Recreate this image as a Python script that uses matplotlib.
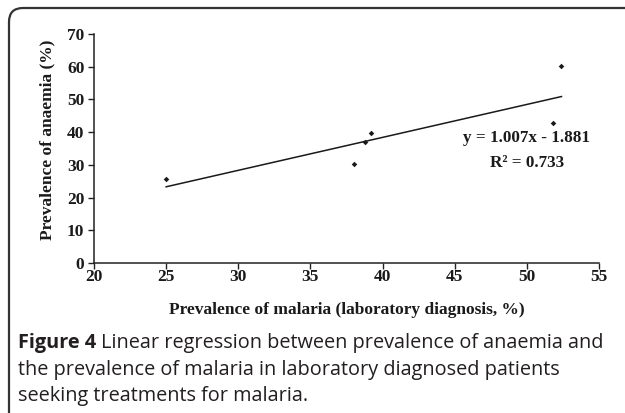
import numpy as np
import matplotlib
matplotlib.use("Agg")
import matplotlib.pyplot as plt
from matplotlib.path import Path
from matplotlib.patches import PathPatch

# Data
malaria = [25.0, 38.0, 38.8, 39.2, 51.8, 52.4]
anaemia = [25.7, 30.2, 36.9, 39.7, 42.7, 60.3]
slope = 1.007
intercept = -1.881
r2 = 0.733
xticks = [20, 25, 30, 35, 40, 45, 50, 55]
yticks = [0, 10, 20, 30, 40, 50, 60, 70]

W, H = 625, 413
fig = plt.figure(figsize=(W / 100, H / 100), dpi=100)
fig.patch.set_facecolor("white")

def fx(px):
    return px / W

def fy(py):
    return 1 - py / H

ax = fig.add_axes([fx(94), fy(263), fx(599) - fx(94), fy(34) - fy(263)])
serif = "Liberation Serif"
ink = "#1a1a1a"

ax.scatter(malaria, anaemia, marker="D", s=8, color=ink, zorder=3, linewidths=0)
xl = np.array([min(malaria), max(malaria)])
ax.plot(xl, slope * xl + intercept, color=ink, lw=1.1)

ax.set_xlim(20, 55)
ax.set_ylim(0, 70)
ax.set_xticks(xticks)
ax.set_yticks(yticks)
ax.set_xticklabels([str(v) for v in xticks], fontfamily=serif, fontweight="bold", fontsize=12.5)
ax.set_yticklabels([str(v) for v in yticks], fontfamily=serif, fontweight="bold", fontsize=12.5)
ax.tick_params(direction="out", length=4, width=1, color="#222222", colors=ink)
ax.tick_params(axis="x", pad=0.5)
ax.tick_params(axis="y", pad=3)
for s in ["top", "right"]:
    ax.spines[s].set_visible(False)
for s in ["left", "bottom"]:
    ax.spines[s].set_linewidth(1.1)
    ax.spines[s].set_color("#222222")

ax.set_xlabel("Prevalence of malaria (laboratory diagnosis, %)", fontfamily=serif,
              fontweight="bold", fontsize=12.5, color=ink)
ax.xaxis.set_label_coords(0.5, (263 - 310) / 229)
ax.xaxis.label.set_va("center")
ax.set_ylabel("Prevalence of anaemia (%)", fontfamily=serif, fontweight="bold",
              fontsize=12.5, color=ink)
ax.yaxis.set_label_coords((47 - 94) / 505, (263 - 140) / 229)
ax.yaxis.label.set_va("center")

sgn = "-" if intercept < 0 else "+"
ax.text(50.0, 38.2, f"y = {slope:.3f}x {sgn} {abs(intercept):.3f}", ha="center", va="center",
        fontfamily=serif, fontweight="bold", fontsize=12.3, color=ink)
ax.text(50.0, 30.6, f"R\u00b2 = {r2:.3f}", ha="center", va="center",
        fontfamily=serif, fontweight="bold", fontsize=12.3, color=ink)

# Rounded frame (top-left)
r = 14
x0, y0 = 9, 8
verts = [(fx(x0), fy(H + 5)), (fx(x0), fy(y0 + r)), (fx(x0), fy(y0)), (fx(x0 + r), fy(y0)),
         (fx(W + 5), fy(y0))]
codes = [Path.MOVETO, Path.LINETO, Path.CURVE3, Path.CURVE3, Path.LINETO]
fig.patches.append(PathPatch(Path(verts, codes), transform=fig.transFigure, fill=False,
                             edgecolor="#333333", lw=1.6, clip_on=False))

# Caption
cap_font = "Open Sans"
cs = 14.3
cap_col = "#231f20"
t1 = fig.text(fx(18), fy(348), "Figure 4", fontfamily=cap_font, fontweight="bold",
              fontsize=cs, va="baseline", color=cap_col)
fig.canvas.draw()
bb = t1.get_window_extent()
fig.text(bb.x1 / W + fx(5), fy(348), "Linear regression between prevalence of anaemia and",
         fontfamily=cap_font, fontsize=cs, va="baseline", color=cap_col)
fig.text(fx(18), fy(375), "the prevalence of malaria in laboratory diagnosed patients",
         fontfamily=cap_font, fontsize=cs, va="baseline", color=cap_col)
fig.text(fx(18), fy(401), "seeking treatments for malaria.",
         fontfamily=cap_font, fontsize=cs, va="baseline", color=cap_col)

fig.savefig("out.png", dpi=100)
